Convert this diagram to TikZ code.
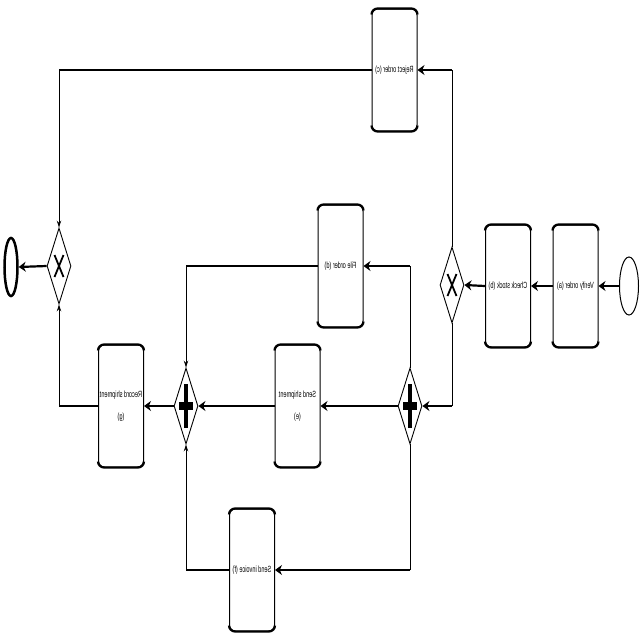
\documentclass[tikz,border=0pt]{standalone}
\usepackage{fontspec}
\setsansfont{Liberation Sans}
\usetikzlibrary{arrows.meta,shapes.geometric}
\newcommand{\mirtxt}[1]{\scalebox{-0.62}[1]{#1}}
\newcommand{\mirtwo}[2]{\scalebox{-0.62}[1]{\begin{tabular}{@{}c@{}}#1\\[12pt]#2\end{tabular}}}
\begin{document}
\begin{tikzpicture}[x=1pt,y=-1pt,
 task/.style={draw,rounded corners=6pt,line width=1pt,minimum width=45pt,minimum height=122pt,inner sep=0pt,font=\sffamily\fontsize{9}{10}\selectfont},
 gw/.style={draw,diamond,line width=0.9pt,minimum width=24pt,minimum height=76pt,inner sep=0pt},
 hl/.style={line width=2.2pt},
 vl/.style={line width=0.9pt},
 harr/.style={hl,-{Stealth[length=7pt,width=10pt]}},
 varr/.style={vl,-{Stealth[length=7pt,width=4.5pt]}},
]
\useasboundingbox (0,0) rectangle (640,640);

% events
\node[draw,ellipse,line width=1pt,minimum width=19pt,minimum height=58pt,inner sep=0pt] (start) at (629,286) {};
\node[draw,ellipse,line width=2.5pt,minimum width=13pt,minimum height=58pt,inner sep=0pt] (endev) at (11,267) {};

% tasks
\node[task] (a) at (575.5,286) {\mirtxt{Verify order (a)}};
\node[task] (b) at (508,286) {\mirtxt{Check stock (b)}};
\node[task] (c) at (394.5,70) {\mirtxt{Reject order (c)}};
\node[task] (d) at (340.5,266) {\mirtxt{File order (d)}};
\node[task] (e) at (297.5,406) {\mirtwo{Send shipment}{(e)}};
\node[task] (f) at (252,570) {\mirtxt{Send invoice (f)}};
\node[task] (g) at (121,406) {\mirtwo{Record shipment}{(g)}};

\foreach \n in {a,b,c,d,e,f,g}{
  \draw[line width=2.2pt,rounded corners=6pt] ([yshift=-6pt]\n.north west) -- (\n.north west) -- (\n.north east) -- ([yshift=-6pt]\n.north east);
  \draw[line width=2.2pt,rounded corners=6pt] ([yshift=6pt]\n.south west) -- (\n.south west) -- (\n.south east) -- ([yshift=6pt]\n.south east);
}

% gateways
\node[gw] (x1) at (452,285) {};
\node[gw] (x2) at (59,266) {};
\node[gw] (p1) at (410,406) {};
\node[gw] (p2) at (186,406) {};

\foreach \n in {x1,x2}{
  \draw[line width=1.8pt] ([xshift=-4.5pt,yshift=11pt]\n.center) -- ([xshift=4.5pt,yshift=-11pt]\n.center);
  \draw[line width=1.8pt] ([xshift=4.5pt,yshift=11pt]\n.center) -- ([xshift=-4.5pt,yshift=-11pt]\n.center);
}
\foreach \n in {p1,p2}{
  \fill ([xshift=-7pt,yshift=-4pt]\n.center) rectangle ([xshift=7pt,yshift=4pt]\n.center);
  \fill ([xshift=-2pt,yshift=-22pt]\n.center) rectangle ([xshift=2pt,yshift=22pt]\n.center);
}

% corners
\coordinate (k1) at (452,70);
\coordinate (k2) at (59,70);
\coordinate (k3) at (59,406);
\coordinate (k4) at (452,406);
\coordinate (k5) at (410,266);
\coordinate (k6) at (186,266);
\coordinate (k7) at (410,570);
\coordinate (k8) at (186,570);

% flows
\draw[harr] (start.west) -- (a.east);
\draw[harr] (a.west) -- (b.east);
\draw[harr] (b.west) -- (x1.east);
\draw[vl] (x1.north) -- (k1);
\draw[harr] (k1) -- (c.east);
\draw[hl] (c.west) -- (k2);
\draw[varr] (k2) -- (x2.north);
\draw[harr] (x2.west) -- (endev.east);
\draw[hl] (g.west) -- (k3);
\draw[varr] (k3) -- (x2.south);
\draw[vl] (x1.south) -- (k4);
\draw[harr] (k4) -- (p1.east);
\draw[harr] (p1.west) -- (e.east);
\draw[harr] (e.west) -- (p2.east);
\draw[harr] (p2.west) -- (g.east);
\draw[vl] (p1.north) -- (k5);
\draw[harr] (k5) -- (d.east);
\draw[hl] (d.west) -- (k6);
\draw[varr] (k6) -- (p2.north);
\draw[vl] (p1.south) -- (k7);
\draw[harr] (k7) -- (f.east);
\draw[hl] (f.west) -- (k8);
\draw[varr] (k8) -- (p2.south);
\end{tikzpicture}
\end{document}
